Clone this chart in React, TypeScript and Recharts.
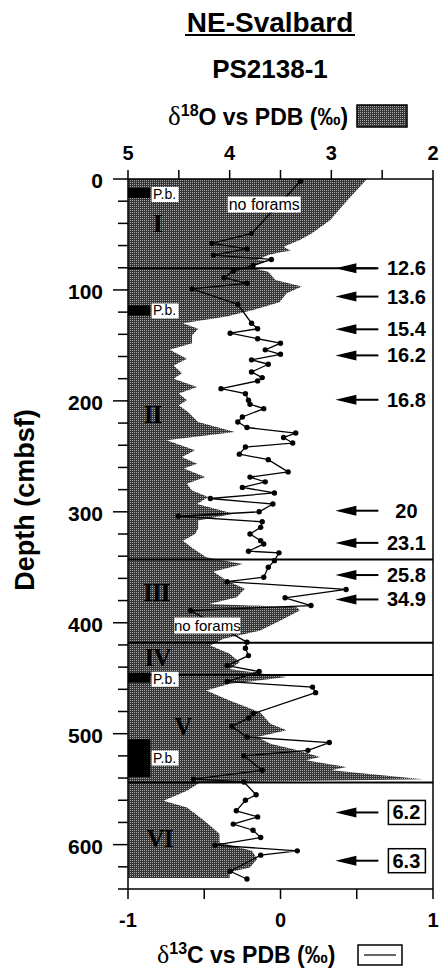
import React from 'react';
import {
  ComposedChart,
  Area,
  Line,
  XAxis,
  YAxis,
  ReferenceLine,
  ReferenceArea,
  ReferenceDot,
} from 'recharts';

// ---- δ18O (shaded) ----
const o18Depths = [
  0, 22, 37, 49, 55, 61, 64.7, 66, 68.6, 73, 74, 77.6, 80, 83.6, 91, 97, 103, 111, 118, 124,
  130, 135, 141, 148, 154, 162, 168, 175, 180, 187.4, 193.4, 199.5, 204, 210, 219, 228, 235.6,
  244.6, 250.6, 256.6, 261, 268.7, 274.6, 280.7, 286.7, 293, 301.7, 307.8, 315, 320, 326, 333,
  341, 347, 354, 362, 369.4, 377, 383, 386, 389, 398, 407, 414.5, 420.6, 428, 435.6, 441.6, 449,
  455, 461, 470, 480.7, 491, 497, 503, 509, 514, 521, 524, 530, 533, 541, 544, 551.5, 560.5,
  566.5, 575.5, 583, 590.5, 598, 605.6, 613, 620.6, 625, 630,
];
const o18Values = [
  2.65, 2.87, 3.01, 3.19, 3.31, 3.47, 3.4, 3.5, 3.62, 3.73, 3.62, 3.77, 3.8, 3.62, 3.55, 3.29, 3.44,
  3.51, 3.77, 4.03, 4.46, 4.31, 4.37, 4.37, 4.59, 4.42, 4.55, 4.47, 4.55, 4.32, 4.5, 4.42, 4.5,
  4.41, 4.31, 3.95, 4.62, 4.34, 4.47, 4.32, 4.45, 4.24, 4.42, 4.37, 4.21, 4.32, 3.96, 4.31, 4.31,
  4.34, 4.46, 4.36, 4.23, 3.87, 4.16, 4.03, 3.85, 3.93, 4.2, 3.34, 3.31, 3.5, 3.7, 4.06, 4.19, 4.0,
  3.9, 4.0, 3.44, 4.0, 4.23, 4.0, 3.7, 3.6, 3.44, 3.73, 3.6, 3.37, 3.11, 3.25, 2.85, 3.0, 2.1, 4.29,
  4.42, 4.65, 4.42, 4.29, 4.19, 4.1, 4.1, 3.78, 3.73, 3.8, 4.0, 4.0,
];

// ---- δ13C (line) ----
const c13Depths = [
  2, 49, 58, 63, 68.6, 72.5, 78, 83, 89, 94, 99, 113, 130, 135, 139, 144, 148, 154, 158, 163, 167,
  174, 179, 182, 189, 193.5, 199.5, 203, 207, 214.5, 219, 224, 229, 233, 238, 241.6, 248, 253,
  264, 268.7, 273, 278, 283, 288, 293, 300, 304, 309, 314, 320, 326, 329, 335.5, 337, 344, 350,
  359, 363, 370, 377.5, 384.5, 389, 417.5, 423, 429.6, 438.6, 444, 453, 458, 463, 482, 486, 493.4,
  503, 508, 515, 520, 533, 541, 543.5, 555, 560, 569.5, 575, 581.5, 587, 593.6, 600.5, 605.6,
  609.5, 624, 631,
];
const c13Values = [
  0.13, -0.19, -0.45, -0.22, -0.44, -0.06, -0.18, -0.31, -0.37, -0.22, -0.58, -0.28, -0.19, -0.15,
  -0.33, -0.15, 0.0, -0.1, 0.0, -0.19, -0.08, -0.19, -0.12, -0.15, -0.39, -0.23, -0.21, -0.2, -0.11,
  -0.25, -0.28, -0.22, 0.1, 0.02, 0.08, -0.23, -0.27, -0.08, 0.05, -0.2, -0.1, -0.25, -0.04, -0.46,
  -0.05, -0.14, -0.67, -0.12, -0.13, -0.2, -0.13, -0.11, -0.21, -0.01, -0.04, -0.08, -0.11, -0.35,
  0.43, 0.03, 0.2, -0.59, -0.22, -0.23, -0.21, -0.35, -0.14, -0.35, 0.21, 0.23, -0.18, -0.21, -0.32,
  -0.22, 0.32, 0.18, -0.24, -0.12, -0.57, -0.24, -0.16, -0.23, -0.29, -0.15, -0.31, -0.18, -0.13,
  -0.43, 0.11, -0.13, -0.33, -0.22,
];

// ---- annotations ----
const boundaryDepths = [343, 418, 447, 544];
const firstBoundaryDepth = 80.5;
const firstBoundaryEnd = 2.55;

const ageLabels = ['12.6', '13.6', '15.4', '16.2', '16.8', '20', '23.1', '25.8', '34.9', '6.2', '6.3'];
const ageDepths = [80.5, 106, 135.5, 159, 199, 299, 328, 357, 379, 571, 614.5];
const ageBoxed = [false, false, false, false, false, false, false, false, false, true, true];
const arrowTip = 2.96;

const stageNames = ['I', 'II', 'III', 'IV', 'V', 'VI'];
const stageDepths = [41, 213, 373, 431.5, 494, 595];
const stageValues = [4.71, 4.76, 4.72, 4.71, 4.46, 4.69];

const pbTop = [8, 114, 445, 505];
const pbBottom = [17, 123, 454, 539];
const pbLabelDepth = [13.5, 118.5, 450.5, 521.5];
const pbEdge = 4.78;
const pbLabelValue = 4.64;

const noForamDepths = [23, 402.5];
const noForamValues = [3.66, 4.22];

const topTicks = [2, 2.5, 3, 3.5, 4, 4.5, 5];
const bottomTicks = [-1, -0.5, 0, 0.5, 1];
const depthTicks = Array.from({ length: 33 }, (_, i) => i * 20);

const o18Rows = o18Depths.map((d, i) => ({ depth: d, o18: o18Values[i] }));
const c13Rows = c13Depths.map((d, i) => ({ depth: d, c13: c13Values[i] }));

const FONT = '"Liberation Sans", Arial, Helvetica, sans-serif';
const SERIF = '"Liberation Serif", "Times New Roman", serif';

const TopTick = (props: any) => {
  const { x, y, payload } = props;
  const v = payload.value;
  return (
    <g>
      <line x1={x} x2={x} y1={y} y2={y - 9} stroke="#000" strokeWidth={1.5} />
      {Number.isInteger(v) && (
        <text x={x} y={y - 19} textAnchor="middle" fontFamily={FONT} fontWeight="bold" fontSize={20} fill="#000">
          {v}
        </text>
      )}
    </g>
  );
};

const BottomTick = (props: any) => {
  const { x, y, payload } = props;
  const v = payload.value;
  return (
    <g>
      <line x1={x} x2={x} y1={y} y2={y + 10} stroke="#000" strokeWidth={1.5} />
      {Number.isInteger(v) && (
        <text x={x} y={y + 38} textAnchor="middle" fontFamily={FONT} fontWeight="bold" fontSize={20} fill="#000">
          {v}
        </text>
      )}
    </g>
  );
};

const LeftTick = (props: any) => {
  const { x, y, payload } = props;
  const v = payload.value;
  const major = v % 100 === 0;
  return (
    <g>
      <line x1={x - (major ? 15 : 10)} x2={x} y1={y} y2={y} stroke="#000" strokeWidth={1.5} />
      {major && (
        <text x={x - 25} y={y + 9} textAnchor="end" fontFamily={FONT} fontWeight="bold" fontSize={21} fill="#000">
          {v}
        </text>
      )}
    </g>
  );
};

const makeArrow = (label: string, boxed: boolean) => (p: any) => {
  const { cx, cy } = p;
  return (
    <g>
      <polygon points={`${cx},${cy} ${cx + 21},${cy - 5} ${cx + 21},${cy + 5}`} fill="#000" />
      <line x1={cx + 18} x2={cx + 43} y1={cy} y2={cy} stroke="#000" strokeWidth={2} />
      {boxed && (
        <rect x={cx + 53} y={cy - 12} width={37} height={24} fill="#fff" stroke="#000" strokeWidth={1.5} />
      )}
      <text x={cx + 71} y={cy + 7} textAnchor="middle" fontFamily={FONT} fontWeight="bold" fontSize={20} fill="#000">
        {label}
      </text>
    </g>
  );
};

const makeStage = (name: string) => (p: any) => {
  const { cx, cy } = p;
  return (
    <text x={cx} y={cy + 8} textAnchor="middle" fontFamily={SERIF} fontWeight="bold" fontSize={25} fill="#000" letterSpacing={-1}>
      {name}
    </text>
  );
};

const pbShape = (p: any) => {
  const { cx, cy } = p;
  return (
    <g>
      <rect x={cx - 13} y={cy - 7} width={27} height={15} fill="#fff" />
      <text x={cx} y={cy + 5} textAnchor="middle" fontFamily={FONT} fontSize={14} fill="#000">
        P.b.
      </text>
    </g>
  );
};

const noForamShape = (w: number, fs: number) => (p: any) => {
  const { cx, cy } = p;
  return (
    <g>
      <rect x={cx - w / 2} y={cy - 8} width={w} height={16} fill="#fff" />
      <text x={cx} y={cy + 5} textAnchor="middle" fontFamily={FONT} fontSize={fs} fill="#000">
        no forams
      </text>
    </g>
  );
};

const Stipple = ({ id }: { id: string }) => (
  <pattern id={id} patternUnits="userSpaceOnUse" width={2} height={2}>
    <rect x={0} y={0} width={2} height={2} fill="#363636" />
    <rect x={0} y={0} width={1} height={1} fill="#a8a8a8" />
  </pattern>
);

export default function App() {
  return (
    <div style={{ position: 'absolute', left: 0, top: 0, width: 439, height: 970, background: '#fff' }}>
      <ComposedChart
        layout="vertical"
        width={439}
        height={970}
        margin={{ top: 149, right: 6, bottom: 51, left: 68 }}
      >
        <defs>
          <Stipple id="stip" />
        </defs>
        <XAxis
          xAxisId="top"
          orientation="top"
          type="number"
          domain={[2, 5]}
          reversed
          ticks={topTicks}
          interval={0}
          height={30}
          tickSize={0}
          tickMargin={0}
          tickLine={false}
          axisLine={{ stroke: '#000', strokeWidth: 1.5 }}
          tick={<TopTick />}
          allowDataOverflow
        />
        <XAxis
          xAxisId="bot"
          orientation="bottom"
          type="number"
          domain={[-1, 1]}
          ticks={bottomTicks}
          interval={0}
          height={30}
          tickSize={0}
          tickMargin={0}
          tickLine={false}
          axisLine={{ stroke: '#000', strokeWidth: 1.5 }}
          tick={<BottomTick />}
          allowDataOverflow
        />
        <YAxis
          type="number"
          dataKey="depth"
          domain={[0, 640]}
          ticks={depthTicks}
          interval={0}
          width={60}
          tickSize={0}
          tickMargin={0}
          tickLine={false}
          axisLine={{ stroke: '#000', strokeWidth: 1.5 }}
          tick={<LeftTick />}
          allowDataOverflow
        />
        <Area
          data={o18Rows}
          dataKey="o18"
          xAxisId="top"
          type="linear"
          baseValue={5}
          stroke="none"
          fill="url(#stip)"
          fillOpacity={1}
          isAnimationActive={false}
        />
        {pbTop.map((t, i) => (
          <ReferenceArea
            key={'pb' + i}
            xAxisId="top"
            x1={5}
            x2={pbEdge}
            y1={t}
            y2={pbBottom[i]}
            fill="#000"
            fillOpacity={1}
            stroke="none"
          />
        ))}
        <ReferenceLine
          xAxisId="top"
          segment={[
            { x: 5, y: firstBoundaryDepth },
            { x: firstBoundaryEnd, y: firstBoundaryDepth },
          ]}
          stroke="#000"
          strokeWidth={2}
        />
        {boundaryDepths.map((d) => (
          <ReferenceLine key={'b' + d} xAxisId="top" y={d} stroke="#000" strokeWidth={2} />
        ))}
        <ReferenceLine xAxisId="top" x={2} stroke="#000" strokeWidth={1.5} />
        <Line
          data={c13Rows}
          dataKey="c13"
          xAxisId="bot"
          type="linear"
          stroke="#000"
          strokeWidth={1.3}
          dot={{ r: 2.7, fill: '#000', stroke: '#000', strokeWidth: 0 }}
          isAnimationActive={false}
        />
        {noForamDepths.map((d, i) => (
          <ReferenceDot
            key={'nf' + i}
            xAxisId="top"
            x={noForamValues[i]}
            y={d}
            r={1}
            shape={noForamShape(i === 0 ? 73 : 66, i === 0 ? 16 : 15)}
          />
        ))}
        {pbLabelDepth.map((d, i) => (
          <ReferenceDot key={'pbl' + i} xAxisId="top" x={pbLabelValue} y={d} r={1} shape={pbShape} />
        ))}
        {stageNames.map((n, i) => (
          <ReferenceDot key={'st' + n} xAxisId="top" x={stageValues[i]} y={stageDepths[i]} r={1} shape={makeStage(n)} />
        ))}
        {ageLabels.map((a, i) => (
          <ReferenceDot
            key={'age' + i}
            xAxisId="top"
            x={arrowTip}
            y={ageDepths[i]}
            r={1}
            shape={makeArrow(a, ageBoxed[i])}
          />
        ))}
      </ComposedChart>
      <svg
        width={439}
        height={970}
        style={{ position: 'absolute', left: 0, top: 0, pointerEvents: 'none' }}
      >
        <defs>
          <Stipple id="stip2" />
        </defs>
        <text x={270} y={32} textAnchor="middle" fontFamily={FONT} fontWeight="bold" fontSize={28} fill="#000">
          NE-Svalbard
        </text>
        <line x1={185} x2={355} y1={35} y2={35} stroke="#000" strokeWidth={2} />
        <text x={270} y={78} textAnchor="middle" fontFamily={FONT} fontWeight="bold" fontSize={26} fill="#000">
          PS2138-1
        </text>
        <text x={168} y={125} fontFamily={FONT} fontWeight="bold" fontSize={23} fill="#000">
          <tspan fontFamily={SERIF} fontWeight="normal" fontSize={27}>δ</tspan>
          <tspan fontSize={16} dy={-9}>18</tspan>
          <tspan dy={9}>O vs PDB (‰)</tspan>
        </text>
        <rect x={357} y={105} width={50} height={22} fill="url(#stip2)" stroke="#000" strokeWidth={1.5} />
        <text
          transform="translate(34,500) rotate(-90)"
          textAnchor="middle"
          fontFamily={FONT}
          fontWeight="bold"
          fontSize={27}
          fill="#000"
        >
          Depth (cmbsf)
        </text>
        <text x={157} y={963} fontFamily={FONT} fontWeight="bold" fontSize={23} fill="#000">
          <tspan fontFamily={SERIF} fontWeight="normal" fontSize={26}>δ</tspan>
          <tspan fontSize={16} dy={-9}>13</tspan>
          <tspan dy={9}>C vs PDB (‰)</tspan>
        </text>
        <rect x={358} y={945} width={44} height={20} fill="#fff" stroke="#000" strokeWidth={1.5} />
        <line x1={364} x2={396} y1={955} y2={955} stroke="#000" strokeWidth={1.2} />
      </svg>
    </div>
  );
}
